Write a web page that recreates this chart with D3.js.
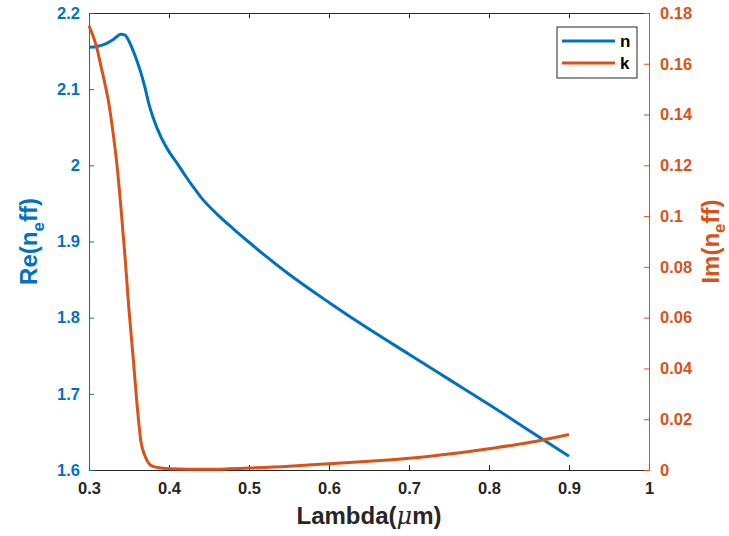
<!DOCTYPE html>
<html>
<head>
<meta charset="utf-8">
<script src="https://cdn.jsdelivr.net/npm/d3@7"></script>
<style>
  body { margin: 0; background: #fff; }
  svg { font-family: "Liberation Sans", Arial, sans-serif; font-weight: bold; }
</style>
</head>
<body>
<div id="chart"></div>
<script>
// wavelength (um) and effective index
const lambdaN = [0.30, 0.31, 0.32, 0.33, 0.34, 0.345, 0.35, 0.355, 0.36, 0.365, 0.37, 0.375, 0.38, 0.39, 0.40, 0.41, 0.42, 0.43, 0.44, 0.46, 0.48, 0.50, 0.55, 0.60, 0.65, 0.70, 0.75, 0.80, 0.85, 0.90];
const reN =     [2.155, 2.156, 2.159, 2.165, 2.172, 2.171, 2.163, 2.151, 2.137, 2.121, 2.102, 2.08, 2.063, 2.037, 2.018, 2.003, 1.987, 1.972, 1.958, 1.936, 1.917, 1.899, 1.857, 1.820, 1.785, 1.752, 1.719, 1.686, 1.652, 1.618];

const lambdaK = [0.30, 0.305, 0.31, 0.315, 0.32, 0.325, 0.33, 0.335, 0.34, 0.345, 0.35, 0.355, 0.36, 0.365, 0.37, 0.375, 0.38, 0.39, 0.40, 0.45, 0.50, 0.55, 0.60, 0.65, 0.70, 0.75, 0.80, 0.85, 0.90];
const imK =     [0.175, 0.171, 0.166, 0.159, 0.152, 0.144, 0.133, 0.12, 0.103, 0.084, 0.063, 0.045, 0.026, 0.011, 0.0055, 0.0025, 0.0014, 0.0008, 0.0005, 0.0003, 0.0008, 0.0015, 0.0025, 0.0034, 0.0046, 0.0063, 0.0084, 0.0108, 0.014];

const xTicks = [0.3, 0.4, 0.5, 0.6, 0.7, 0.8, 0.9, 1];
const leftTicks = [1.6, 1.7, 1.8, 1.9, 2, 2.1, 2.2];
const rightTicks = [0, 0.02, 0.04, 0.06, 0.08, 0.1, 0.12, 0.14, 0.16, 0.18];
const legendNames = ["n", "k"];

const width = 729, height = 536;
const margin = {left: 89, right: 80, top: 13, bottom: 66};
const blue = "#0072BD", orange = "#D95319", dark = "#262626";
const tickFont = 16.5;

const x = d3.scaleLinear().domain([0.3, 1]).range([margin.left, width - margin.right]);
const yL = d3.scaleLinear().domain([1.6, 2.2]).range([height - margin.bottom, margin.top]);
const yR = d3.scaleLinear().domain([0, 0.18]).range([height - margin.bottom, margin.top]);

const svg = d3.select("#chart").append("svg")
  .attr("width", width)
  .attr("height", height);

const fmt = d => d3.format("~g")(d);

// x axis bottom + top
svg.append("g")
  .attr("transform", `translate(0,${height - margin.bottom})`)
  .call(d3.axisBottom(x).tickValues(xTicks).tickFormat(fmt).tickSizeInner(-5).tickSizeOuter(0).tickPadding(12))
  .call(g => g.select(".domain").attr("stroke", dark))
  .call(g => g.selectAll(".tick line").attr("stroke", dark))
  .call(g => g.selectAll("text").attr("fill", dark).attr("font-size", tickFont).attr("font-weight", "bold").attr("font-family", "Liberation Sans, Arial, sans-serif"));

svg.append("g")
  .attr("transform", `translate(0,${margin.top})`)
  .call(d3.axisTop(x).tickValues(xTicks).tickFormat("").tickSizeInner(-5).tickSizeOuter(0))
  .call(g => g.select(".domain").attr("stroke", dark))
  .call(g => g.selectAll(".tick line").attr("stroke", dark));

// left axis
svg.append("g")
  .attr("transform", `translate(${margin.left},0)`)
  .call(d3.axisLeft(yL).tickValues(leftTicks).tickFormat(fmt).tickSizeInner(-5).tickSizeOuter(0).tickPadding(9))
  .call(g => g.select(".domain").attr("stroke", blue))
  .call(g => g.selectAll(".tick line").attr("stroke", blue))
  .call(g => g.selectAll("text").attr("fill", blue).attr("font-size", tickFont).attr("font-weight", "bold").attr("font-family", "Liberation Sans, Arial, sans-serif"));

// right axis
svg.append("g")
  .attr("transform", `translate(${width - margin.right},0)`)
  .call(d3.axisRight(yR).tickValues(rightTicks).tickFormat(fmt).tickSizeInner(-5).tickSizeOuter(0).tickPadding(11))
  .call(g => g.select(".domain").attr("stroke", orange))
  .call(g => g.selectAll(".tick line").attr("stroke", orange))
  .call(g => g.selectAll("text").attr("fill", orange).attr("font-size", tickFont).attr("font-weight", "bold").attr("font-family", "Liberation Sans, Arial, sans-serif"));

// curves
const lineN = d3.line().x((d, i) => x(lambdaN[i])).y(d => yL(d)).curve(d3.curveMonotoneX);
const lineK = d3.line().x((d, i) => x(lambdaK[i])).y(d => yR(d)).curve(d3.curveMonotoneX);

svg.append("path").datum(reN)
  .attr("fill", "none").attr("stroke", blue).attr("stroke-width", 3)
  .attr("d", lineN);
svg.append("path").datum(imK)
  .attr("fill", "none").attr("stroke", orange).attr("stroke-width", 3)
  .attr("d", lineK);

// axis labels
const cy = (margin.top + height - margin.bottom) / 2;
svg.append("text")
  .attr("x", (margin.left + width - margin.right) / 2)
  .attr("y", 524)
  .attr("text-anchor", "middle")
  .attr("fill", dark)
  .attr("font-size", 24)
  .html('Lambda(<tspan font-family="DejaVu Serif" font-style="italic" font-weight="normal">μ</tspan>m)');

const ylab = svg.append("text")
  .attr("transform", `translate(37,${cy}) rotate(-90)`)
  .attr("text-anchor", "middle")
  .attr("fill", blue)
  .attr("font-size", 24);
ylab.append("tspan").text("Re(n");
ylab.append("tspan").attr("font-size", 17).attr("dy", 7).text("e");
ylab.append("tspan").attr("dy", -7).text("ff)");

const ylabR = svg.append("text")
  .attr("transform", `translate(719,${cy}) rotate(-90)`)
  .attr("text-anchor", "middle")
  .attr("fill", orange)
  .attr("font-size", 24);
ylabR.append("tspan").text("Im(n");
ylabR.append("tspan").attr("font-size", 17).attr("dy", 6).text("e");
ylabR.append("tspan").attr("dy", -6).text("ff)");

// legend
const lg = svg.append("g").attr("transform", "translate(557,27)");
lg.append("rect").attr("width", 80).attr("height", 51)
  .attr("fill", "#fff").attr("stroke", dark).attr("stroke-width", 1);
legendNames.forEach((name, i) => {
  const yy = 14 + i * 22;
  lg.append("line").attr("x1", 5).attr("x2", 58).attr("y1", yy).attr("y2", yy)
    .attr("stroke", i === 0 ? blue : orange).attr("stroke-width", 3);
  lg.append("text").attr("x", 63).attr("y", yy + 6)
    .attr("font-size", 17).attr("fill", "#000").text(name);
});
</script>
</body>
</html>
